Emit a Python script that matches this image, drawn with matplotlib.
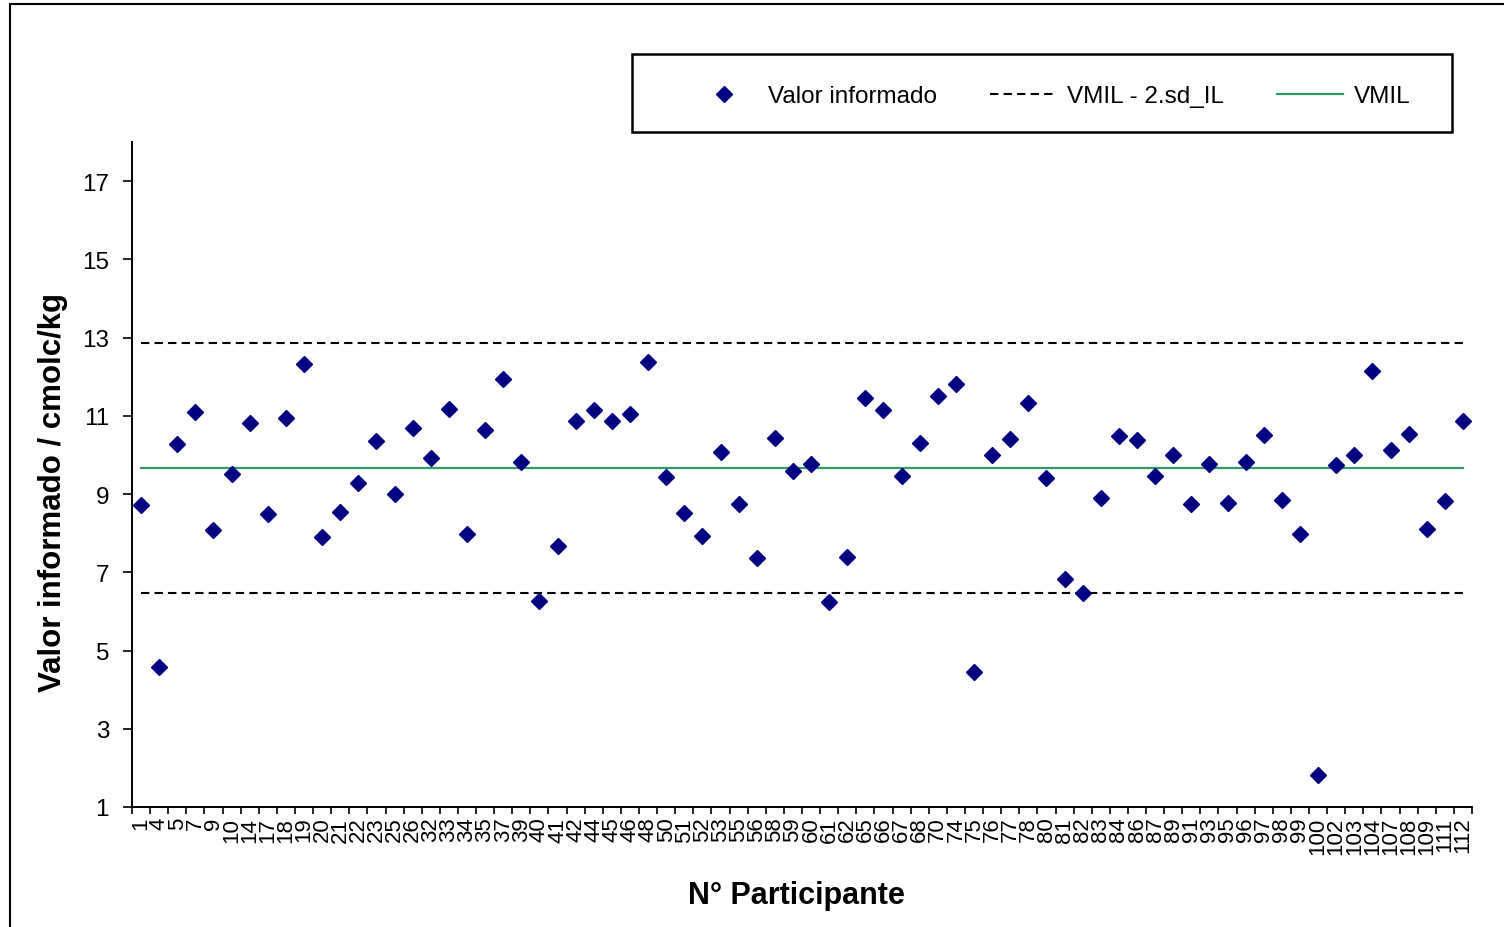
import matplotlib
matplotlib.use("Agg")
import matplotlib.pyplot as plt
import numpy as np
from matplotlib.lines import Line2D
from matplotlib.patches import Rectangle
from matplotlib.ticker import FixedLocator

plt.rcParams["font.family"] = ["Liberation Sans", "DejaVu Sans"]

# participant ids (x categories) and reported values
participants = [1, 4, 5, 7, 9, 10, 14, 17, 18, 19, 20, 21, 22, 23, 25, 26, 32, 33,
                34, 35, 37, 39, 40, 41, 42, 44, 45, 46, 48, 50, 51, 52, 53, 55, 56,
                58, 59, 60, 61, 62, 65, 66, 67, 68, 70, 74, 75, 76, 77, 78, 80, 81,
                82, 83, 84, 86, 87, 89, 91, 93, 95, 96, 97, 98, 99, 100, 102, 103,
                104, 107, 108, 109, 111, 112]
valores = [8.71, 4.58, 10.28, 11.11, 8.08, 9.51, 10.81, 8.48, 10.94, 12.32, 7.91,
           8.54, 9.28, 10.36, 9.01, 10.70, 9.91, 11.18, 7.98, 10.64, 11.93, 9.81,
           6.27, 7.68, 10.88, 11.15, 10.88, 11.05, 12.38, 9.43, 8.51, 7.94, 10.08,
           8.74, 7.36, 10.44, 9.58, 9.77, 6.25, 7.39, 11.45, 11.15, 9.45, 10.31,
           11.51, 11.81, 4.46, 10.01, 10.41, 11.32, 9.41, 6.82, 6.48, 8.91, 10.48,
           10.39, 9.47, 10.01, 8.74, 9.77, 8.78, 9.82, 10.52, 8.85, 7.98, 1.82,
           9.74, 10.01, 12.14, 10.12, 10.54, 8.11, 8.81, 10.87]
vmil = 9.67
two_sd = 3.19
y_ticks = [1, 3, 5, 7, 9, 11, 13, 15, 17]

NAVY = "#000080"
GREEN = "#339966"

fig = plt.figure(figsize=(15.04, 9.28), dpi=100)
ax = fig.add_axes([132 / 1504, 1 - 808 / 928, 1340 / 1504, 665 / 928])

x = np.arange(len(participants))
n = len(participants)

ax.plot(x, [vmil + two_sd] * n, color="black", lw=1.5, ls=(0, (4, 2.5)))
ax.plot(x, [vmil - two_sd] * n, color="black", lw=1.5, ls=(0, (4, 2.5)))
ax.plot(x, [vmil] * n, color=GREEN, lw=1.6)
ax.plot(x, valores, ls="none", marker="D", ms=8, color=NAVY, mec=NAVY)

ax.set_xlim(-0.5, n - 0.5)
ax.set_ylim(1, 18)
ax.set_yticks(y_ticks)
ax.set_xticks(x)
ax.set_xticklabels([str(p) for p in participants], rotation=90, fontsize=16)
ax.xaxis.set_minor_locator(FixedLocator(np.arange(n + 1) - 0.5))
ax.tick_params(axis="x", which="major", length=0, pad=7)
ax.tick_params(axis="x", which="minor", length=5, width=1.2, direction="out")
ax.tick_params(axis="y", length=6.5, width=1.2, labelsize=17.5, pad=10)
for s in ("top", "right"):
    ax.spines[s].set_visible(False)
for s in ("left", "bottom"):
    ax.spines[s].set_linewidth(1.4)

ax.set_ylabel("Valor informado / cmolc/kg", fontsize=22.5, fontweight="bold")
ax.yaxis.set_label_coords(-0.048, 0.474)
fig.text(796 / 1504, 1 - 896 / 928, "N° Participante", fontsize=22,
         fontweight="bold", ha="center", va="center")

# legend box
fig.patches.append(Rectangle((632 / 1504, 1 - 133 / 928), 820 / 1504, 78 / 928,
                             transform=fig.transFigure, fill=False,
                             edgecolor="black", lw=1.8))
handles = [
    Line2D([], [], ls="none", marker="D", ms=8, color=NAVY),
    Line2D([], [], color="black", lw=1.5, ls=(0, (4, 2.5))),
    Line2D([], [], color=GREEN, lw=1.6),
]
fig.legend(handles, ["Valor informado", "VMIL - 2.sd_IL", "VMIL"],
           loc="center", bbox_to_anchor=(1051 / 1504, 1 - 97 / 928), ncol=3,
           frameon=False, fontsize=17.5, handlelength=2.7, handletextpad=0.45,
           columnspacing=2.2)

# outer chart border
fig.patches.append(Rectangle((10 / 1504, -0.05), 1.1, 1 - 5 / 928 + 0.05,
                             transform=fig.transFigure, fill=False,
                             edgecolor="black", lw=1.5))

fig.savefig("out.png", dpi=100)
